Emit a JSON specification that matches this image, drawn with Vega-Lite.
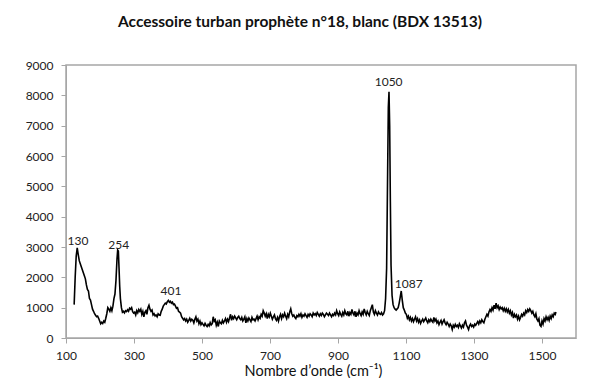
{
  "$schema": "https://vega.github.io/schema/vega-lite/v6.json",
  "autosize": "none",
  "width": 510,
  "height": 273,
  "padding": {"left": 66, "top": 65, "right": 24, "bottom": 40},
  "background": "white",
  "title": {"text": "Accessoire turban prophète n°18, blanc (BDX 13513)", "fontSize": 15.5, "font": "Lato", "fontWeight": "bold", "color": "#111", "offset": 29, "anchor": "middle", "dx": -21},
  "config": {
    "font": "Lato",
    "view": {"stroke": "#a6a6a6", "strokeWidth": 1.5},
    "axis": {"grid": false, "domainColor": "#a6a6a6", "tickColor": "#a6a6a6", "tickSize": 5, "labelColor": "#222", "labelFontSize": 12, "labelFont": "Lato", "titleFont": "Lato", "titleFontSize": 14.5, "titleFontWeight": "normal", "titleColor": "#111", "labelOverlap": false, "format": "d"}
  },
  "datasets": {
    "spec": [
      {"x":124,"y":1100},{"x":127,"y":2000},{"x":130,"y":2700},{"x":133,"y":2970},{"x":136,"y":2750},{"x":139,"y":2550},{"x":142,"y":2450},{"x":145,"y":2350},{"x":148,"y":2250},{"x":151,"y":2150},{"x":154,"y":2050},{"x":157,"y":1950},{"x":160,"y":1750},{"x":163,"y":1600},{"x":166,"y":1550},{"x":169,"y":1300},{"x":172,"y":1250},{"x":175,"y":1100},{"x":178,"y":950},{"x":181,"y":880},{"x":184,"y":800},{"x":187,"y":750},{"x":190,"y":700},{"x":193,"y":720},{"x":196,"y":650},{"x":199,"y":560},{"x":202,"y":470},{"x":205,"y":520},{"x":208,"y":480},{"x":211,"y":560},{"x":214,"y":520},{"x":217,"y":650},{"x":220,"y":800},{"x":223,"y":1000},{"x":226,"y":950},{"x":229,"y":880},{"x":232,"y":1000},{"x":235,"y":900},{"x":238,"y":1050},{"x":241,"y":1300},{"x":244,"y":1450},{"x":247,"y":1900},{"x":250,"y":2600},{"x":252,"y":2900},{"x":254,"y":2870},{"x":256,"y":2300},{"x":258,"y":1700},{"x":260,"y":1300},{"x":263,"y":1000},{"x":266,"y":850},{"x":269,"y":880},{"x":272,"y":830},{"x":275,"y":900},{"x":278,"y":870},{"x":281,"y":930},{"x":284,"y":880},{"x":287,"y":980},{"x":290,"y":950},{"x":293,"y":1000},{"x":296,"y":870},{"x":299,"y":820},{"x":302,"y":850},{"x":305,"y":760},{"x":308,"y":900},{"x":311,"y":830},{"x":314,"y":940},{"x":317,"y":880},{"x":320,"y":950},{"x":323,"y":780},{"x":326,"y":880},{"x":329,"y":700},{"x":332,"y":850},{"x":335,"y":900},{"x":338,"y":780},{"x":341,"y":1000},{"x":344,"y":1080},{"x":347,"y":950},{"x":350,"y":880},{"x":353,"y":920},{"x":356,"y":760},{"x":359,"y":800},{"x":362,"y":730},{"x":365,"y":760},{"x":368,"y":700},{"x":371,"y":800},{"x":374,"y":760},{"x":377,"y":750},{"x":380,"y":880},{"x":383,"y":950},{"x":386,"y":1050},{"x":389,"y":1100},{"x":392,"y":1150},{"x":395,"y":1120},{"x":398,"y":1200},{"x":401,"y":1240},{"x":404,"y":1180},{"x":407,"y":1210},{"x":410,"y":1150},{"x":413,"y":1180},{"x":416,"y":1100},{"x":419,"y":1120},{"x":422,"y":1050},{"x":425,"y":980},{"x":428,"y":1000},{"x":431,"y":880},{"x":434,"y":850},{"x":437,"y":820},{"x":440,"y":700},{"x":443,"y":650},{"x":446,"y":600},{"x":449,"y":640},{"x":452,"y":560},{"x":455,"y":620},{"x":458,"y":520},{"x":461,"y":580},{"x":464,"y":650},{"x":467,"y":560},{"x":470,"y":620},{"x":473,"y":590},{"x":476,"y":500},{"x":479,"y":620},{"x":482,"y":700},{"x":485,"y":560},{"x":488,"y":620},{"x":491,"y":470},{"x":494,"y":560},{"x":497,"y":440},{"x":500,"y":500},{"x":503,"y":450},{"x":506,"y":400},{"x":509,"y":480},{"x":512,"y":420},{"x":515,"y":380},{"x":518,"y":450},{"x":521,"y":400},{"x":524,"y":510},{"x":527,"y":430},{"x":530,"y":470},{"x":533,"y":700},{"x":536,"y":550},{"x":539,"y":600},{"x":542,"y":420},{"x":545,"y":520},{"x":548,"y":380},{"x":551,"y":560},{"x":554,"y":500},{"x":557,"y":470},{"x":560,"y":580},{"x":563,"y":500},{"x":566,"y":560},{"x":569,"y":640},{"x":572,"y":520},{"x":575,"y":620},{"x":578,"y":540},{"x":581,"y":660},{"x":584,"y":780},{"x":587,"y":580},{"x":590,"y":700},{"x":593,"y":640},{"x":596,"y":720},{"x":599,"y":660},{"x":602,"y":600},{"x":605,"y":680},{"x":608,"y":720},{"x":611,"y":640},{"x":614,"y":600},{"x":617,"y":680},{"x":620,"y":560},{"x":623,"y":620},{"x":626,"y":700},{"x":629,"y":500},{"x":632,"y":640},{"x":635,"y":560},{"x":638,"y":660},{"x":641,"y":600},{"x":644,"y":540},{"x":647,"y":680},{"x":650,"y":600},{"x":653,"y":620},{"x":656,"y":560},{"x":659,"y":640},{"x":662,"y":720},{"x":665,"y":600},{"x":668,"y":700},{"x":671,"y":650},{"x":674,"y":780},{"x":677,"y":720},{"x":680,"y":900},{"x":683,"y":820},{"x":686,"y":720},{"x":689,"y":800},{"x":692,"y":640},{"x":695,"y":780},{"x":698,"y":700},{"x":701,"y":820},{"x":704,"y":720},{"x":707,"y":620},{"x":710,"y":700},{"x":713,"y":760},{"x":716,"y":640},{"x":719,"y":580},{"x":722,"y":680},{"x":725,"y":560},{"x":728,"y":700},{"x":731,"y":780},{"x":734,"y":640},{"x":737,"y":760},{"x":740,"y":700},{"x":743,"y":820},{"x":746,"y":720},{"x":749,"y":640},{"x":752,"y":780},{"x":755,"y":700},{"x":758,"y":860},{"x":761,"y":960},{"x":764,"y":800},{"x":767,"y":720},{"x":770,"y":760},{"x":773,"y":680},{"x":776,"y":640},{"x":779,"y":740},{"x":782,"y":700},{"x":785,"y":780},{"x":788,"y":720},{"x":791,"y":800},{"x":794,"y":680},{"x":797,"y":760},{"x":800,"y":720},{"x":803,"y":800},{"x":806,"y":740},{"x":809,"y":680},{"x":812,"y":780},{"x":815,"y":720},{"x":818,"y":800},{"x":821,"y":760},{"x":824,"y":700},{"x":827,"y":820},{"x":830,"y":760},{"x":833,"y":800},{"x":836,"y":740},{"x":839,"y":840},{"x":842,"y":780},{"x":845,"y":720},{"x":848,"y":800},{"x":851,"y":740},{"x":854,"y":820},{"x":857,"y":780},{"x":860,"y":700},{"x":863,"y":760},{"x":866,"y":820},{"x":869,"y":780},{"x":872,"y":740},{"x":875,"y":820},{"x":878,"y":760},{"x":881,"y":700},{"x":884,"y":780},{"x":887,"y":740},{"x":890,"y":820},{"x":893,"y":760},{"x":896,"y":900},{"x":899,"y":800},{"x":902,"y":740},{"x":905,"y":860},{"x":908,"y":780},{"x":911,"y":720},{"x":914,"y":840},{"x":917,"y":760},{"x":920,"y":900},{"x":923,"y":800},{"x":926,"y":760},{"x":929,"y":880},{"x":932,"y":720},{"x":935,"y":840},{"x":938,"y":780},{"x":941,"y":940},{"x":944,"y":820},{"x":947,"y":760},{"x":950,"y":880},{"x":953,"y":700},{"x":956,"y":820},{"x":959,"y":760},{"x":962,"y":900},{"x":965,"y":800},{"x":968,"y":740},{"x":971,"y":860},{"x":974,"y":780},{"x":977,"y":960},{"x":980,"y":840},{"x":983,"y":760},{"x":986,"y":880},{"x":989,"y":800},{"x":992,"y":740},{"x":995,"y":900},{"x":998,"y":1000},{"x":1001,"y":1100},{"x":1004,"y":860},{"x":1007,"y":780},{"x":1010,"y":900},{"x":1013,"y":820},{"x":1016,"y":760},{"x":1019,"y":860},{"x":1022,"y":800},{"x":1025,"y":780},{"x":1028,"y":840},{"x":1031,"y":760},{"x":1034,"y":800},{"x":1037,"y":900},{"x":1040,"y":1300},{"x":1043,"y":2300},{"x":1046,"y":5500},{"x":1048,"y":7600},{"x":1050,"y":8120},{"x":1052,"y":7000},{"x":1054,"y":4500},{"x":1056,"y":2400},{"x":1059,"y":1400},{"x":1062,"y":1100},{"x":1065,"y":1000},{"x":1068,"y":950},{"x":1071,"y":920},{"x":1074,"y":960},{"x":1077,"y":1000},{"x":1080,"y":1150},{"x":1083,"y":1350},{"x":1086,"y":1550},{"x":1089,"y":1250},{"x":1092,"y":1000},{"x":1095,"y":920},{"x":1098,"y":820},{"x":1101,"y":780},{"x":1104,"y":650},{"x":1107,"y":720},{"x":1110,"y":600},{"x":1113,"y":680},{"x":1116,"y":560},{"x":1119,"y":640},{"x":1122,"y":540},{"x":1125,"y":620},{"x":1128,"y":700},{"x":1131,"y":560},{"x":1134,"y":640},{"x":1137,"y":520},{"x":1140,"y":600},{"x":1143,"y":480},{"x":1146,"y":560},{"x":1149,"y":620},{"x":1152,"y":540},{"x":1155,"y":600},{"x":1158,"y":660},{"x":1161,"y":560},{"x":1164,"y":500},{"x":1167,"y":600},{"x":1170,"y":540},{"x":1173,"y":620},{"x":1176,"y":560},{"x":1179,"y":520},{"x":1182,"y":680},{"x":1185,"y":560},{"x":1188,"y":620},{"x":1191,"y":500},{"x":1194,"y":560},{"x":1197,"y":440},{"x":1200,"y":520},{"x":1203,"y":580},{"x":1206,"y":460},{"x":1209,"y":540},{"x":1212,"y":600},{"x":1215,"y":500},{"x":1218,"y":440},{"x":1221,"y":520},{"x":1224,"y":460},{"x":1227,"y":380},{"x":1230,"y":460},{"x":1233,"y":400},{"x":1236,"y":280},{"x":1239,"y":420},{"x":1242,"y":360},{"x":1245,"y":450},{"x":1248,"y":380},{"x":1251,"y":420},{"x":1254,"y":350},{"x":1257,"y":470},{"x":1260,"y":400},{"x":1263,"y":330},{"x":1266,"y":420},{"x":1269,"y":360},{"x":1272,"y":500},{"x":1275,"y":560},{"x":1278,"y":420},{"x":1281,"y":360},{"x":1284,"y":280},{"x":1287,"y":400},{"x":1290,"y":460},{"x":1293,"y":380},{"x":1296,"y":420},{"x":1299,"y":360},{"x":1302,"y":460},{"x":1305,"y":420},{"x":1308,"y":480},{"x":1311,"y":540},{"x":1314,"y":460},{"x":1317,"y":560},{"x":1320,"y":500},{"x":1323,"y":600},{"x":1326,"y":540},{"x":1329,"y":500},{"x":1332,"y":620},{"x":1335,"y":700},{"x":1338,"y":780},{"x":1341,"y":720},{"x":1344,"y":860},{"x":1347,"y":940},{"x":1350,"y":880},{"x":1353,"y":1000},{"x":1356,"y":920},{"x":1359,"y":1080},{"x":1362,"y":960},{"x":1365,"y":1150},{"x":1368,"y":1000},{"x":1371,"y":1060},{"x":1374,"y":940},{"x":1377,"y":1020},{"x":1380,"y":960},{"x":1383,"y":1000},{"x":1386,"y":900},{"x":1389,"y":980},{"x":1392,"y":880},{"x":1395,"y":960},{"x":1398,"y":860},{"x":1401,"y":940},{"x":1404,"y":820},{"x":1407,"y":900},{"x":1410,"y":760},{"x":1413,"y":840},{"x":1416,"y":660},{"x":1419,"y":780},{"x":1422,"y":700},{"x":1425,"y":760},{"x":1428,"y":620},{"x":1431,"y":720},{"x":1434,"y":600},{"x":1437,"y":680},{"x":1440,"y":780},{"x":1443,"y":720},{"x":1446,"y":820},{"x":1449,"y":760},{"x":1452,"y":900},{"x":1455,"y":840},{"x":1458,"y":940},{"x":1461,"y":880},{"x":1464,"y":960},{"x":1467,"y":900},{"x":1470,"y":820},{"x":1473,"y":880},{"x":1476,"y":760},{"x":1479,"y":700},{"x":1482,"y":800},{"x":1485,"y":620},{"x":1488,"y":560},{"x":1491,"y":640},{"x":1494,"y":420},{"x":1497,"y":380},{"x":1500,"y":560},{"x":1503,"y":460},{"x":1506,"y":640},{"x":1509,"y":560},{"x":1512,"y":700},{"x":1515,"y":600},{"x":1518,"y":680},{"x":1521,"y":580},{"x":1524,"y":720},{"x":1527,"y":640},{"x":1530,"y":760},{"x":1533,"y":700},{"x":1536,"y":820},{"x":1539,"y":780},{"x":1541,"y":860}
    ],
    "peaks": [
      {"x":135,"y":3200,"label":"130"},
      {"x":255,"y":3080,"label":"254"},
      {"x":409,"y":1563,"label":"401"},
      {"x":1049,"y":8440,"label":"1050"},
      {"x":1108,"y":1793,"label":"1087"}
    ]
  },
  "encoding": {
    "x": {"field": "x", "type": "quantitative", "scale": {"domain": [100, 1600], "nice": false, "zero": false},
          "axis": {"values": [100, 300, 500, 700, 900, 1100, 1300, 1500], "title": "Nombre d’onde (cm⁻¹)", "labelPadding": 7, "titleY": 26, "titleBaseline": "top", "labelFlush": false, "titleX": 247, "titleAnchor": "middle", "titleAlign": "center", "labelOverlap": false, "format": "d"}},
    "y": {"field": "y", "type": "quantitative", "scale": {"domain": [0, 9000], "nice": false},
          "axis": {"values": [0, 1000, 2000, 3000, 4000, 5000, 6000, 7000, 8000, 9000], "title": null, "labelPadding": 8, "labelOverlap": false, "format": "d"}}
  },
  "layer": [
    {
      "data": {"name": "spec"},
      "mark": {"type": "line", "color": "#000", "strokeWidth": 1.6, "interpolate": "linear"}
    },
    {
      "data": {"name": "peaks"},
      "mark": {"type": "text", "fontSize": 12, "color": "#222", "baseline": "middle", "align": "center"},
      "encoding": {
        "text": {"field": "label", "type": "nominal"}
      }
    }
  ]
}
